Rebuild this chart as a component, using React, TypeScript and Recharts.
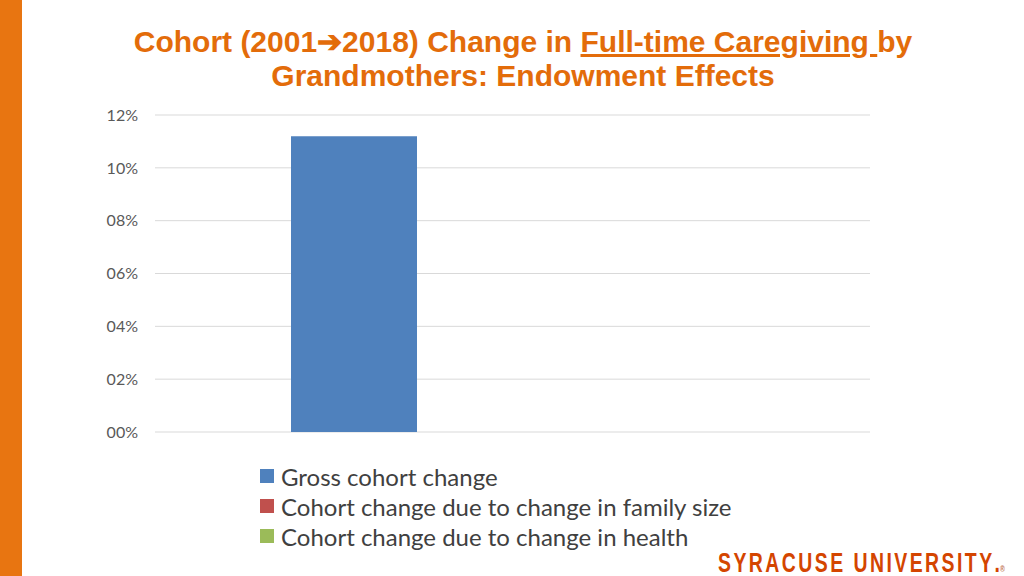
import React from 'react';
import { BarChart, Bar, XAxis, YAxis, CartesianGrid } from 'recharts';

const categories = ['2001→2018'];
const grossChange = [0.112];
const familySizeChange = [0];
const healthChange = [0];
const yTicks = [0, 0.02, 0.04, 0.06, 0.08, 0.1, 0.12];

const seriesInfo = [
  { key: 'gross', name: 'Gross cohort change', color: '#4F81BD' },
  { key: 'family', name: 'Cohort change due to change in family size', color: '#C0504D' },
  { key: 'health', name: 'Cohort change due to change in health', color: '#9BBB59' },
];

const chartData = categories.map((c, i) => ({
  category: c,
  gross: grossChange[i],
  family: familySizeChange[i],
  health: healthChange[i],
}));

const ORANGE = '#E36C0A';

const formatPct = (v: number) => {
  const n = Math.round(v * 100);
  return (n < 10 ? '0' + n : String(n)) + '%';
};

const App: React.FC = () => {
  return (
    <div style={{ position: 'absolute', top: 0, left: 0, width: 1024, height: 576, background: '#fff', overflow: 'hidden' }}>
      {/* orange side strip */}
      <div style={{ position: 'absolute', left: 0, top: 0, width: 22, height: 576, background: '#E87511' }} />

      {/* title */}
      <div
        style={{
          position: 'absolute',
          left: 22,
          width: 1002,
          top: 25,
          textAlign: 'center',
          fontFamily: '"Liberation Sans", Arial, sans-serif',
          fontWeight: 'bold',
          fontSize: 30,
          lineHeight: '34px',
          color: ORANGE,
        }}
      >
        Cohort (2001➔2018) Change in <span style={{ textDecoration: 'underline' }}>Full-time Caregiving </span>by
        <br />
        Grandmothers: Endowment Effects
      </div>

      <div style={{ position: 'absolute', left: 0, top: 0 }}>
        <BarChart
          width={1024}
          height={576}
          data={chartData}
          margin={{ top: 115, right: 154, bottom: 144, left: 95 }}
          barGap={33}
        >
          <CartesianGrid vertical={false} stroke="#D9D9D9" />
          <XAxis dataKey="category" hide />
          <YAxis
            width={60}
            domain={[0, 0.12]}
            ticks={yTicks}
            tickFormatter={formatPct}
            axisLine={false}
            tickLine={false}
            tickMargin={11}
            tick={{ fill: '#595959', fontSize: 16, fontFamily: 'Lato, "Open Sans", sans-serif' }}
          />
          {seriesInfo.map((s) => (
            <Bar key={s.key} dataKey={s.key} name={s.name} fill={s.color} barSize={126} isAnimationActive={false} />
          ))}
        </BarChart>
      </div>

      {/* legend */}
      <div
        style={{
          position: 'absolute',
          left: 260,
          top: 461,
          fontFamily: 'Lato, "Open Sans", sans-serif',
          fontSize: 24,
          color: '#404040',
        }}
      >
        {seriesInfo.map((s) => (
          <div key={s.key} style={{ display: 'flex', alignItems: 'center', height: 30 }}>
            <span style={{ width: 14, height: 14, background: s.color, marginRight: 7, display: 'inline-block' }} />
            <span>{s.name}</span>
          </div>
        ))}
      </div>

      {/* logo text */}
      <div
        style={{
          position: 'absolute',
          left: 718,
          top: 551,
          height: 24,
          fontFamily: '"Liberation Sans", sans-serif',
          fontWeight: 'bold',
          fontSize: 27,
          lineHeight: '24px',
          letterSpacing: 3.4,
          color: '#D44500',
          whiteSpace: 'nowrap',
          transform: 'scaleX(0.72)',
          transformOrigin: 'left top',
        }}
      >
        SYRACUSE UNIVERSITY<span style={{ letterSpacing: 0 }}>.</span>
        <span style={{ fontSize: 9, letterSpacing: 0, color: '#C07050' }}>®</span>
      </div>
    </div>
  );
};

export default App;
